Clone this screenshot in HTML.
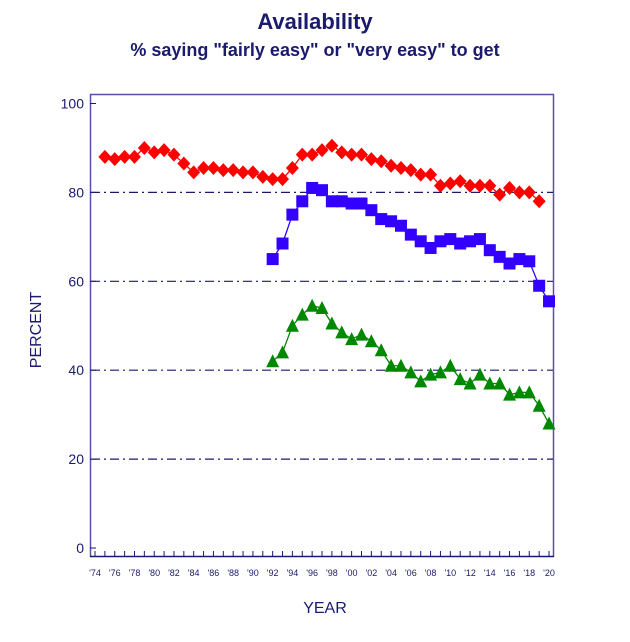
<!DOCTYPE html>
<html><head><meta charset="utf-8"><style>
body{margin:0;background:#fff;width:630px;height:637px;overflow:hidden}
text{font-family:"Liberation Sans",Arial,sans-serif}
</style></head><body>
<svg id="s" width="630" height="637" xmlns="http://www.w3.org/2000/svg">
<text x="315" y="29" text-anchor="middle" font-size="22" font-weight="bold" fill="#1a1a6e">Availability</text>
<text x="315" y="56" text-anchor="middle" font-size="18" font-weight="bold" fill="#1a1a6e">% saying "fairly easy" or "very easy" to get</text>
<text transform="translate(41,330) rotate(-90)" text-anchor="middle" font-size="16" fill="#1a1a6e">PERCENT</text>
<text x="325" y="613" text-anchor="middle" font-size="16" fill="#1a1a6e">YEAR</text>
<g id="g"></g>
</svg>
<script>
var g=document.getElementById('g'),h='';
function X(y){return 95+(y-1974)*9.87}
function Y(v){return 548-v*4.445}
// frame
h+='<line x1="90.5" y1="94" x2="90.5" y2="557" stroke="#5b4fa8" stroke-width="1.5"/>';
h+='<line x1="90" y1="94.5" x2="554" y2="94.5" stroke="#5b4fa8" stroke-width="1.5"/>';
h+='<line x1="553.5" y1="94" x2="553.5" y2="557" stroke="#5b4fa8" stroke-width="1.5"/>';
h+='<line x1="90" y1="556.5" x2="554" y2="556.5" stroke="#1a1a6e" stroke-width="1.5"/>';
for(var v=0;v<=100;v+=20){var y=Y(v);
h+='<line x1="90" y1="'+y+'" x2="96" y2="'+y+'" stroke="#1a1a6e"/>';
h+='<text x="84" y="'+(y+5)+'" text-anchor="end" font-size="14" fill="#1a1a6e">'+v+'</text>';
if(v>0&&v<100)h+='<line x1="91" y1="'+y+'" x2="553" y2="'+y+'" stroke="#1a1a6e" stroke-width="1.2" stroke-dasharray="9,4,2,4"/>';}
for(var yr=1974;yr<=2020;yr++){var x=X(yr);
h+='<line x1="'+x+'" y1="551" x2="'+x+'" y2="556" stroke="#1a1a6e"/>';
if(yr%2==0)h+='<text x="'+x+'" y="576" text-anchor="middle" font-size="9" fill="#1a1a6e">\''+String(yr).slice(2)+'</text>';}
var red=[88,87.5,88,88,90,89,89.5,88.5,86.5,84.5,85.5,85.5,85,85,84.5,84.5,83.5,83,83,85.5,88.5,88.5,89.5,90.5,89,88.5,88.5,87.5,87,86,85.5,85,84,84,81.5,82,82.5,81.5,81.5,81.5,79.5,81,80,80,78];
var blue=[65,68.5,75,78,81,80.5,78,78,77.5,77.5,76,74,73.5,72.5,70.5,69,67.5,69,69.5,68.5,69,69.5,67,65.5,64,65,64.5,59,55.5];
var green=[42,44,50,52.5,54.5,54,50.5,48.5,47,48,46.5,44.5,41,41,39.5,37.5,39,39.5,41,38,37,39,37,37,34.5,35,35,32,28];
function line(d,s,c){var p=d.map(function(v,i){return X(s+i)+','+Y(v)}).join(' ');return '<polyline points="'+p+'" fill="none" stroke="'+c+'" stroke-width="1.3"/>';}
h+=line(red,1975,'#ff0000')+line(blue,1992,'#3300ff')+line(green,1992,'#008800');
red.forEach(function(v,i){var x=X(1975+i),y=Y(v);h+='<polygon points="'+x+','+(y-7)+' '+(x+6.5)+','+y+' '+x+','+(y+7)+' '+(x-6.5)+','+y+'" fill="#ff0000"/>';});
blue.forEach(function(v,i){var x=X(1992+i),y=Y(v);h+='<rect x="'+(x-6)+'" y="'+(y-6)+'" width="12" height="12" fill="#3300ff"/>';});
green.forEach(function(v,i){var x=X(1992+i),y=Y(v);h+='<polygon points="'+x+','+(y-7)+' '+(x+6.5)+','+(y+6)+' '+(x-6.5)+','+(y+6)+'" fill="#008800"/>';});
g.innerHTML=h;
</script>
</body></html>
